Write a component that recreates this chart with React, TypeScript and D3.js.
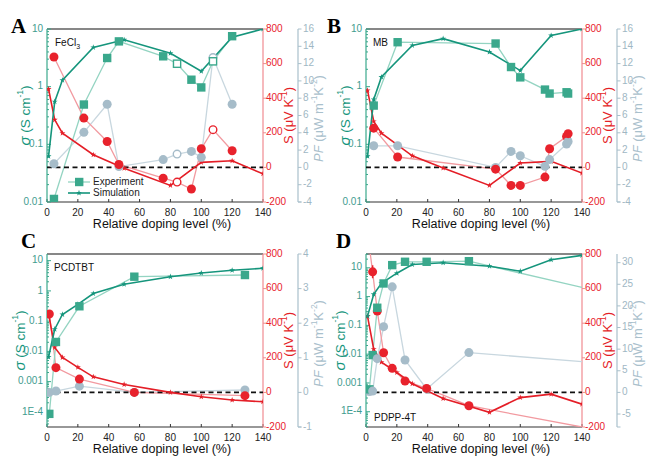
import * as d3 from 'd3';

// panel geometry
const PW = 216;
const PH = 173;

const xTicks = [0, 20, 40, 60, 80, 100, 120, 140];
const sTicks = [-200, 0, 200, 400, 600, 800];

// A: FeCl3
const aSimX = [1, 5, 10, 30, 50, 80, 100, 120, 140];
const aSimSigma = [0.062, 0.55, 1.3, 4.8, 6.5, 3.8, 1.85, 7.2, 10];
const aSimS = [453, 275, 198, 73, -5, -104, 29, 38, -37];
const aExpX = [4.5, 23.9, 39, 46.6, 75.3, 84.3, 93.6, 100, 107.6, 120];
const aExpSigma = [0.0113, 0.49, 3.14, 6.1, 3.36, 2.5, 1.32, 0.97, 2.75, 7.5];
const aExpS = [638, 285, 150, 17, -62, -85, -125, 108, 218, 96];
const aExpPF = [0.42, 4.05, 7.3, 0.1, 0.9, 1.54, 1.85, 1.16, 12.7, 7.3];
const aOpenX = [84.3, 107.6];

// B: MB
const bSimX = [1, 5, 10, 30, 50, 80, 100, 120, 140];
const bSimSigma = [0.062, 0.6, 1.47, 5.2, 6.8, 4.0, 1.9, 7.7, 10];
const bSimS = [445, 266, 198, 67, -4, -104, 25, 35, -33];
const bExpX = [5, 20.5, 84, 94, 100, 116, 119, 130, 131];
const bExpSigma = [0.47, 5.9, 5.6, 2.19, 1.45, 0.89, 0.76, 0.8, 0.76];
const bExpS = [227, 60, -10, -104, -104, -56, 108, 179, 195];
const bExpPF = [2.5, 2.5, 0, 1.85, 1.35, 0.12, 0.9, 2.7, 3.0];

// C: PCDTBT
const cSimX = [1, 5, 10, 20, 30, 50, 80, 100, 120, 140];
const cSimSigma = [0.0065, 0.054, 0.166, 0.36, 0.82, 1.65, 2.95, 3.9, 4.8, 5.6];
const cSimS = [456, 260, 202, 145, 90, 46, 0, -25, -44, -54];
const cExpX = [1.5, 5.8, 21, 56.6, 128.3];
const cExpSigma = [8.6e-5, 0.0205, 0.31, 2.95, 3.35];
const cExpS = [453, 143, 77, 0, -19];
const cExpPF = [0, 0.04, 0.18, 0, 0.07];
const cSigmaErr: ([number, number] | null)[] = [null, null, null, [2.55, 3.45], [3.05, 3.65]];
const cSErr: ([number, number] | null)[] = [null, null, null, null, [-38, -2]];

// D: PDPP-4T
const dSimX = [1, 5, 10, 20, 30, 50, 80, 100, 120, 140];
const dSimSigma = [0.21, 1.2, 2.9, 6.5, 13, 15, 11.4, 7.6, 19, 27];
const dSimS = [440, 250, 175, 115, 50, -35, -115, -30, -10, -68];
const dExpX = [2.2, 4.3, 7.3, 11.4, 17, 25.3, 39.3, 66.7, 140];
const dExpSigma = [6e-4, 0.0093, 0.41, 2.86, 12.4, 16.2, 16.2, 17, 2.08];
const dExpS = [840, 697, 470, 229, 139, 66, 23, -77, -200];
const dExpPF = [0.2, 0.3, 7.8, 15.2, 24.4, 7.5, 0.8, 9.2, 7.1];
const dNoMarkX = [140];
const dSErr: ([number, number] | null)[] = [null, [660, 735], [448, 492], [212, 246], [124, 154], [52, 80], [12, 34], [-90, -64], null];

const TEAL = '#15957c';
const TEAL_LIGHT = '#94d4c2';
const TEAL_MARK = '#3aa88c';
const RED = '#e41e27';
const RED_LIGHT = '#f29aa0';
const RED_MARK = '#e8222c';
const PF_LINE = '#c8d7df';
const PF_MARK = '#a6bcc9';
const TEAL_TXT = '#3f9c8f';
const RED_AXIS = '#f08a90';
const PF_AXIS = '#a9c0cc';
const PF_TXT = '#a0b7c4';

type Err = ([number, number] | null)[];

type PanelProps = {
  id: string;
  letter: string;
  letterPos: [number, number];
  left: number;
  top: number;
  name: React.ReactNode;
  namePos: [number, number];
  sigmaDomain: [number, number];
  sigmaTicks: number[];
  sigmaTitleX: number;
  pfDomain: [number, number];
  pfTicks: number[];
  simX: number[];
  simSigma: number[];
  simS: number[];
  expX: number[];
  expSigma: number[];
  expS: number[];
  expPF: number[];
  openX?: number[];
  noMarkX?: number[];
  sigmaErr?: Err;
  sErr?: Err;
  legend?: boolean;
};

const sigmaFmt = (v: number) => (v < 0.001 ? `1E${Math.round(Math.log10(v))}` : String(v));

function Panel(p: PanelProps) {
  const right = p.left + PW;
  const bottom = p.top + PH;
  const pfX = right + 35;
  const x = d3.scaleLinear([0, 140], [p.left, right]);
  const ySig = d3.scaleLog(p.sigmaDomain, [bottom, p.top]);
  const yS = d3.scaleLinear([-200, 800], [bottom, p.top]);
  const yPF = d3.scaleLinear(p.pfDomain, [bottom, p.top]);

  const path = (xs: number[], ys: number[], sy: (v: number) => number) =>
    d3
      .line<number>()
      .x((_, i) => x(xs[i]))
      .y((d) => sy(d))(ys) ?? '';

  const star = d3.symbol(d3.symbolStar, 11)() ?? '';
  const isOpen = (v: number) => (p.openX ?? []).includes(v);
  const marked = (v: number) => !(p.noMarkX ?? []).includes(v);

  const minor: number[] = [];
  const lo = Math.floor(Math.log10(p.sigmaDomain[0]));
  const hi = Math.ceil(Math.log10(p.sigmaDomain[1]));
  for (let d = lo; d <= hi; d++) {
    for (let k = 2; k < 10; k++) {
      const v = k * 10 ** d;
      if (v > p.sigmaDomain[0] && v < p.sigmaDomain[1]) minor.push(v);
    }
  }

  const midY = p.top + PH / 2;
  const clip = `clip-${p.id}`;

  return (
    <g>
      <defs>
        <clipPath id={clip}>
          <rect x={p.left} y={p.top} width={PW} height={PH} />
        </clipPath>
      </defs>

      <text
        x={p.letterPos[0]}
        y={p.letterPos[1]}
        fontFamily="'Times New Roman', 'Liberation Serif', serif"
        fontWeight="bold"
        fontSize={21}
      >
        {p.letter}
      </text>

      {/* frame */}
      <line x1={p.left} x2={right} y1={p.top} y2={p.top} stroke="#111" strokeWidth={1.2} />
      <line x1={p.left} x2={right} y1={bottom} y2={bottom} stroke="#333" strokeWidth={1.2} />

      {/* x axis */}
      {xTicks.map((t) => (
        <g key={`x${t}`}>
          <line x1={x(t)} x2={x(t)} y1={bottom} y2={bottom - 3} stroke="#333" />
          <text x={x(t)} y={bottom + 13.5} textAnchor="middle" fontSize={10} fill="#222">
            {t}
          </text>
        </g>
      ))}
      <text x={p.left + 115} y={bottom + 26} textAnchor="middle" fontSize={12.5} fill="#111">
        Relative doping level (%)
      </text>

      {/* sigma axis */}
      <line x1={p.left} x2={p.left} y1={p.top} y2={bottom} stroke={TEAL_MARK} strokeWidth={1.2} />
      {minor.map((v) => (
        <line key={`m${v}`} x1={p.left} x2={p.left + 2} y1={ySig(v)} y2={ySig(v)} stroke={TEAL_MARK} />
      ))}
      {p.sigmaTicks.map((t) => (
        <g key={`s${t}`}>
          <line x1={p.left} x2={p.left + 4} y1={ySig(t)} y2={ySig(t)} stroke={TEAL_MARK} />
          <text
            x={p.left - 4}
            y={ySig(t)}
            textAnchor="end"
            dominantBaseline="middle"
            fontSize={10}
            fill={TEAL_TXT}
          >
            {sigmaFmt(t)}
          </text>
        </g>
      ))}
      <text
        transform={`translate(${p.sigmaTitleX},${midY}) rotate(-90)`}
        textAnchor="middle"
        dominantBaseline="middle"
        fontSize={13.5}
        fill={TEAL}
      >
        <tspan fontStyle="italic" fontSize={15}>σ</tspan>
        <tspan> (S cm</tspan>
        <tspan dy={-5} fontSize={8.5}>-1</tspan>
        <tspan dy={5}>)</tspan>
      </text>

      {/* S axis */}
      <line x1={right} x2={right} y1={p.top} y2={bottom} stroke={RED_AXIS} strokeWidth={1.2} />
      {sTicks.map((t) => (
        <g key={`r${t}`}>
          <line x1={right} x2={right + 3} y1={yS(t)} y2={yS(t)} stroke={RED_AXIS} />
          <text x={right + 3} y={yS(t)} dominantBaseline="middle" fontSize={10} fill={RED_MARK}>
            {t}
          </text>
        </g>
      ))}
      <text
        transform={`translate(${right + 27},${midY}) rotate(-90)`}
        textAnchor="middle"
        dominantBaseline="middle"
        fontSize={13}
        fill={RED}
      >
        <tspan>S (μV K</tspan>
        <tspan dy={-5} fontSize={8.5}>-1</tspan>
        <tspan dy={5}>)</tspan>
      </text>

      {/* PF axis */}
      <line x1={pfX} x2={pfX} y1={p.top} y2={bottom} stroke={PF_AXIS} strokeWidth={1.2} />
      {p.pfTicks.map((t) => (
        <g key={`p${t}`}>
          <line x1={pfX} x2={pfX + 3.5} y1={yPF(t)} y2={yPF(t)} stroke={PF_AXIS} />
          <text x={pfX + 5} y={yPF(t)} dominantBaseline="middle" fontSize={10} fill={PF_TXT}>
            {t}
          </text>
        </g>
      ))}
      <line x1={pfX} x2={pfX + 3.5} y1={bottom} y2={bottom} stroke={PF_AXIS} />
      <text
        transform={`translate(${pfX + 22},${midY + 3}) rotate(-90)`}
        textAnchor="middle"
        dominantBaseline="middle"
        fontSize={13}
        fill={PF_AXIS}
      >
        <tspan fontStyle="italic">PF</tspan>
        <tspan> (μW m</tspan>
        <tspan dy={-5} fontSize={8.5}>-1</tspan>
        <tspan dy={5}>K</tspan>
        <tspan dy={-5} fontSize={8.5}>-2</tspan>
        <tspan dy={5}>)</tspan>
      </text>

      <g clipPath={`url(#${clip})`}>
        {/* experiment lines */}
        <path d={path(p.expX, p.expPF, yPF)} fill="none" stroke={PF_LINE} strokeWidth={1.3} />
        <path d={path(p.expX, p.expS, yS)} fill="none" stroke={RED_LIGHT} strokeWidth={1.3} />
        <path d={path(p.expX, p.expSigma, ySig)} fill="none" stroke={TEAL_LIGHT} strokeWidth={1.3} />

        {/* zero line */}
        <line
          x1={x(0)}
          x2={x(140)}
          y1={yS(0)}
          y2={yS(0)}
          stroke="#111"
          strokeWidth={1.8}
          strokeDasharray="5 3.5"
        />

        {/* simulation lines */}
        <path d={path(p.simX, p.simS, yS)} fill="none" stroke={RED} strokeWidth={1.6} />
        <path d={path(p.simX, p.simSigma, ySig)} fill="none" stroke={TEAL} strokeWidth={1.6} />
        {p.simX.map((v, i) => (
          <g key={`st${i}`}>
            <path d={star} transform={`translate(${x(v)},${yS(p.simS[i])})`} fill={RED} />
            <path d={star} transform={`translate(${x(v)},${ySig(p.simSigma[i])})`} fill={TEAL} />
          </g>
        ))}

        {/* error bars */}
        {(p.sigmaErr ?? []).map((e, i) =>
          e ? (
            <line key={`es${i}`} x1={x(p.expX[i])} x2={x(p.expX[i])} y1={ySig(e[0])} y2={ySig(e[1])} stroke={TEAL_MARK} strokeWidth={1.5} />
          ) : null
        )}
        {(p.sErr ?? []).map((e, i) =>
          e ? (
            <line key={`er${i}`} x1={x(p.expX[i])} x2={x(p.expX[i])} y1={yS(e[0])} y2={yS(e[1])} stroke={RED_MARK} strokeWidth={1.5} />
          ) : null
        )}

        {/* experiment markers */}
        {p.expX.map((v, i) =>
          marked(v) ? (
            <g key={`e${i}`}>
              <circle
                cx={x(v)}
                cy={yPF(p.expPF[i])}
                r={isOpen(v) ? 3.8 : 4.5}
                fill={isOpen(v) ? 'white' : PF_MARK}
                stroke={PF_MARK}
                strokeWidth={isOpen(v) ? 1.4 : 0}
              />
              <circle
                cx={x(v)}
                cy={yS(p.expS[i])}
                r={isOpen(v) ? 3.8 : 4.5}
                fill={isOpen(v) ? 'white' : RED_MARK}
                stroke={RED_MARK}
                strokeWidth={isOpen(v) ? 1.4 : 0}
              />
              <rect
                x={x(v) - (isOpen(v) ? 3.6 : 4.2)}
                y={ySig(p.expSigma[i]) - (isOpen(v) ? 3.6 : 4.2)}
                width={isOpen(v) ? 7.2 : 8.4}
                height={isOpen(v) ? 7.2 : 8.4}
                fill={isOpen(v) ? 'white' : TEAL_MARK}
                stroke={TEAL_MARK}
                strokeWidth={isOpen(v) ? 1.4 : 0}
              />
            </g>
          ) : null
        )}
      </g>

      <text x={p.namePos[0]} y={p.namePos[1]} fontSize={10} fill="#111">
        {p.name}
      </text>

      {p.legend && (
        <g fontSize={10} fill="#222">
          <line x1={p.left + 21} x2={p.left + 43} y1={bottom - 20} y2={bottom - 20} stroke={TEAL_LIGHT} strokeWidth={1.3} />
          <rect x={p.left + 28} y={bottom - 24.2} width={8.4} height={8.4} fill={TEAL_MARK} />
          <text x={p.left + 46} y={bottom - 20} dominantBaseline="middle">Experiment</text>
          <line x1={p.left + 21} x2={p.left + 43} y1={bottom - 9} y2={bottom - 9} stroke={TEAL} strokeWidth={1.6} />
          <path d={star} transform={`translate(${p.left + 32},${bottom - 9})`} fill={TEAL} />
          <text x={p.left + 46} y={bottom - 9} dominantBaseline="middle">Simulation</text>
        </g>
      )}
    </g>
  );
}

export default function App() {
  const abTicks = [0.01, 0.1, 1, 10];
  const cdTicks = [1e-4, 0.001, 0.01, 0.1, 1, 10];
  return (
    <svg
      width={650}
      height={468}
      style={{ position: 'absolute', left: 0, top: 0 }}
      fontFamily="Arial, 'Liberation Sans', sans-serif"
    >
      <rect width={650} height={468} fill="white" />
      <Panel
        id="a"
        letter="A"
        letterPos={[11, 33]}
        left={47}
        top={29}
        name={
          <>
            FeCl<tspan dy={3} fontSize={7}>3</tspan>
          </>
        }
        namePos={[55, 46]}
        sigmaDomain={[0.01, 10]}
        sigmaTicks={abTicks}
        sigmaTitleX={26}
        pfDomain={[-4, 16]}
        pfTicks={[-4, -2, 0, 2, 4, 6, 8, 10, 12, 14, 16]}
        simX={aSimX}
        simSigma={aSimSigma}
        simS={aSimS}
        expX={aExpX}
        expSigma={aExpSigma}
        expS={aExpS}
        expPF={aExpPF}
        openX={aOpenX}
        legend
      />
      <Panel
        id="b"
        letter="B"
        letterPos={[327, 33]}
        left={366}
        top={29}
        name="MB"
        namePos={[373, 46]}
        sigmaDomain={[0.01, 10]}
        sigmaTicks={abTicks}
        sigmaTitleX={346}
        pfDomain={[-4, 16]}
        pfTicks={[-4, -2, 0, 2, 4, 6, 8, 10, 12, 14, 16]}
        simX={bSimX}
        simSigma={bSimSigma}
        simS={bSimS}
        expX={bExpX}
        expSigma={bExpSigma}
        expS={bExpS}
        expPF={bExpPF}
      />
      <Panel
        id="c"
        letter="C"
        letterPos={[21, 248]}
        left={47}
        top={254}
        name="PCDTBT"
        namePos={[54, 271]}
        sigmaDomain={[10 ** -4.5, 10 ** 1.22]}
        sigmaTicks={cdTicks}
        sigmaTitleX={21}
        pfDomain={[-1, 4]}
        pfTicks={[-1, 0, 1, 2, 3, 4]}
        simX={cSimX}
        simSigma={cSimSigma}
        simS={cSimS}
        expX={cExpX}
        expSigma={cExpSigma}
        expS={cExpS}
        expPF={cExpPF}
        sigmaErr={cSigmaErr}
        sErr={cSErr}
      />
      <Panel
        id="d"
        letter="D"
        letterPos={[336, 248]}
        left={366}
        top={254}
        name="PDPP-4T"
        namePos={[374, 421]}
        sigmaDomain={[10 ** -4.53, 10 ** 1.48]}
        sigmaTicks={cdTicks}
        sigmaTitleX={341}
        pfDomain={[-8, 32]}
        pfTicks={[-5, 0, 5, 10, 15, 20, 25, 30]}
        simX={dSimX}
        simSigma={dSimSigma}
        simS={dSimS}
        expX={dExpX}
        expSigma={dExpSigma}
        expS={dExpS}
        expPF={dExpPF}
        noMarkX={dNoMarkX}
        sErr={dSErr}
      />
    </svg>
  );
}
